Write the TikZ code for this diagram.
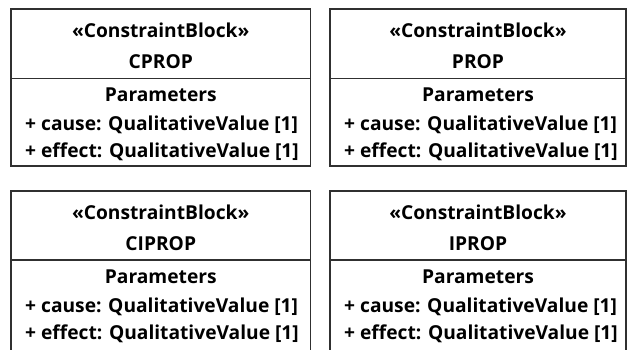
\documentclass[tikz,border=0pt]{standalone}
\usepackage{fontspec}
\setmainfont{Open Sans}
\definecolor{linegray}{HTML}{303030}
\tikzset{
  x=1pt, y=-1pt,
  frame/.style={draw=linegray, line width=1.4pt},
  divider/.style={draw=linegray, line width=1.4pt},
  txt/.style={font=\fontsize{19.2}{21}\selectfont\bfseries, inner sep=0pt, anchor=base},
  ptxt/.style={txt, anchor=base west},
}
\begin{document}
\begin{tikzpicture}
\useasboundingbox (0,0) rectangle (629,349);
\clip (0,0) rectangle (629,349);
% block frames
\coordinate (b1nw) at (11,9);   \coordinate (b1se) at (310.5,166);
\coordinate (b2nw) at (330,9);  \coordinate (b2se) at (626,166);
\coordinate (b3nw) at (11,191); \coordinate (b3se) at (310.5,370);
\coordinate (b4nw) at (330,191);\coordinate (b4se) at (626,370);
\draw[frame] (b1nw) rectangle (b1se);
\draw[frame] (b2nw) rectangle (b2se);
\draw[frame] (b3nw) rectangle (b3se);
\draw[frame] (b4nw) rectangle (b4se);
% dividers
\coordinate (d1l) at (11,78.5);  \coordinate (d1r) at (310.5,78.5);
\coordinate (d2l) at (330,78.5);  \coordinate (d2r) at (626,78.5);
\coordinate (d3l) at (11,260);   \coordinate (d3r) at (310.5,260);
\coordinate (d4l) at (330,260);   \coordinate (d4r) at (626,260);
\draw[divider] (d1l) -- (d1r);
\draw[divider] (d2l) -- (d2r);
\draw[divider] (d3l) -- (d3r);
\draw[divider] (d4l) -- (d4r);
% block 1
\node[txt] (s1) at (160.75,37) {«ConstraintBlock»};
\node[txt] (n1) at (160.75,68) {CPROP};
\node[txt] (p1) at (160.75,101) {Parameters};
\node[ptxt] (c1) at (25,130.5) {+ cause: QualitativeValue [1]};
\node[ptxt] (e1) at (25,157.5) {+ effect: QualitativeValue [1]};
% block 2
\node[txt] (s2) at (478,37) {«ConstraintBlock»};
\node[txt] (n2) at (478,68) {PROP};
\node[txt] (p2) at (478,101) {Parameters};
\node[ptxt] (c2) at (344,130.5) {+ cause: QualitativeValue [1]};
\node[ptxt] (e2) at (344,157.5) {+ effect: QualitativeValue [1]};
% block 3
\node[txt] (s3) at (160.75,219) {«ConstraintBlock»};
\node[txt] (n3) at (160.75,250) {CIPROP};
\node[txt] (p3) at (160.75,283) {Parameters};
\node[ptxt] (c3) at (25,312.5) {+ cause: QualitativeValue [1]};
\node[ptxt] (e3) at (25,339.5) {+ effect: QualitativeValue [1]};
% block 4
\node[txt] (s4) at (478,219) {«ConstraintBlock»};
\node[txt] (n4) at (478,250) {IPROP};
\node[txt] (p4) at (478,283) {Parameters};
\node[ptxt] (c4) at (344,312.5) {+ cause: QualitativeValue [1]};
\node[ptxt] (e4) at (344,339.5) {+ effect: QualitativeValue [1]};
\end{tikzpicture}
\end{document}
